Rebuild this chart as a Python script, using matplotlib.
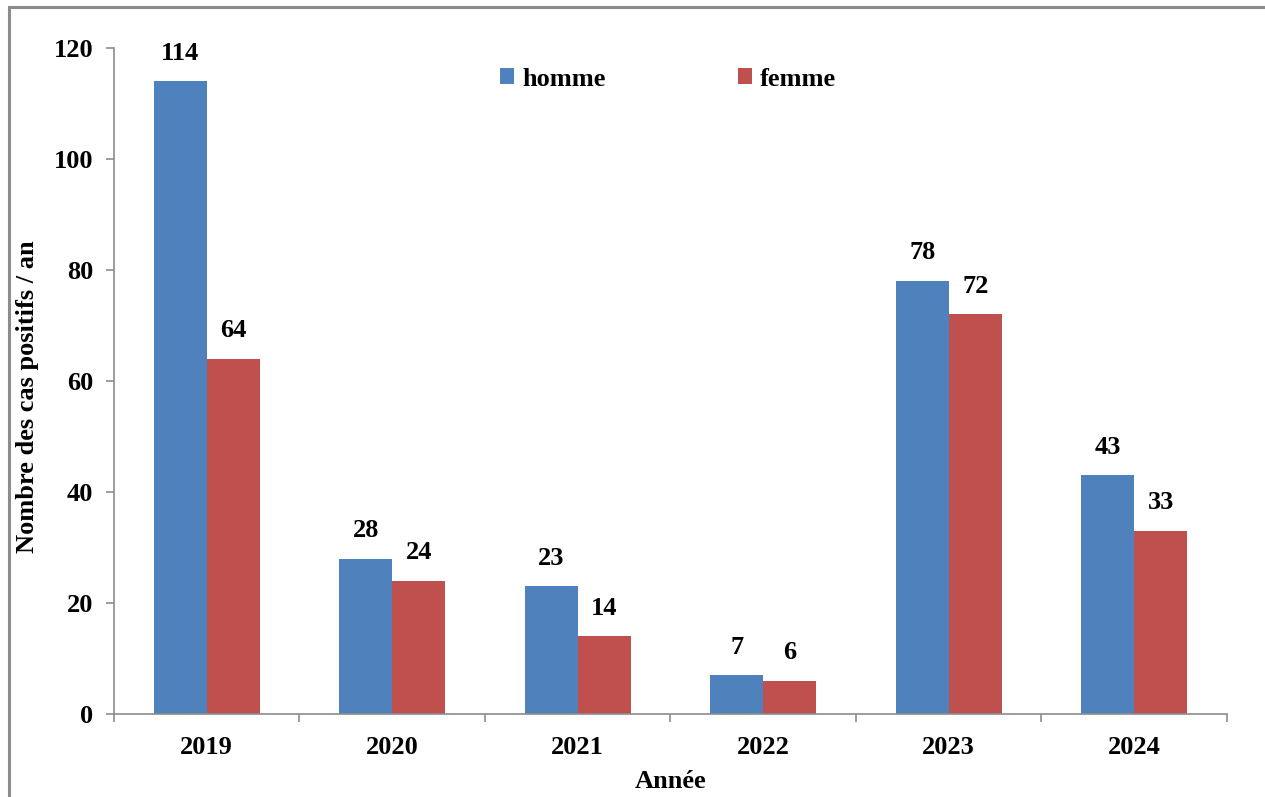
import numpy as np
import matplotlib.pyplot as plt
from matplotlib.patches import Rectangle

# Positive cases per year, split by sex
years = ['2019', '2020', '2021', '2022', '2023', '2024']
homme = [114, 28, 23, 7, 78, 43]
femme = [64, 24, 14, 6, 72, 33]

plt.rcParams['font.family'] = ['Liberation Serif', 'DejaVu Serif']
plt.rcParams['font.weight'] = 'bold'
fs = 19

fig = plt.figure(figsize=(12.65, 7.97), dpi=100)
ax = fig.add_axes([0.0901, 0.1041, 0.8798, 0.8357])

# gray frame around the chart area
fig.patches.append(Rectangle((9 / 1265, -0.05), 1.1, 1 - 7 / 797 + 0.05,
                             transform=fig.transFigure, fill=False,
                             edgecolor='#8c8c8c', linewidth=2.2))

x = np.arange(len(years))
w = 0.286
b1 = ax.bar(x - w / 2, homme, w, color='#4f81bd', label='homme')
b2 = ax.bar(x + w / 2, femme, w, color='#c0504d', label='femme')

for bars, vals in [(b1, homme), (b2, femme)]:
    for r, v in zip(bars, vals):
        ax.annotate(str(v), (r.get_x() + r.get_width() / 2, v),
                    xytext=(0, 12), textcoords='offset points',
                    ha='center', va='bottom', fontsize=fs, fontweight='bold')

ax.set_xlim(-0.5, len(years) - 0.5)
ax.set_ylim(0, 120)
ax.set_yticks(range(0, 121, 20))
ax.set_xticks(x)
ax.set_xticklabels(years)
ax.set_xticks(np.arange(-0.5, len(years)), minor=True)
ax.tick_params(axis='x', which='major', length=0, pad=16, labelsize=fs)
ax.tick_params(axis='x', which='minor', length=6, color='#8c8c8c', width=1.2)
ax.tick_params(axis='y', length=6, color='#8c8c8c', width=1.2, pad=9, labelsize=fs)

for s in ['top', 'right']:
    ax.spines[s].set_visible(False)
for s in ['left', 'bottom']:
    ax.spines[s].set_color('#8c8c8c')
    ax.spines[s].set_linewidth(1.2)

ax.set_xlabel('Année', fontsize=fs, fontweight='bold', labelpad=8)
fig.text(28 / 1265, 1 - 397 / 797, 'Nombre des cas positifs / an', rotation=90,
         ha='center', va='center', fontsize=fs, fontweight='bold')

ax.legend(loc='upper left', bbox_to_anchor=(476 / 1265, 1 - 44 / 797),
          bbox_transform=fig.transFigure, ncol=2, frameon=False,
          handlelength=0.55, handleheight=0.55, handletextpad=0.3,
          columnspacing=5.0, prop={'size': fs, 'weight': 'bold'})

fig.savefig('out.png', dpi=100)
